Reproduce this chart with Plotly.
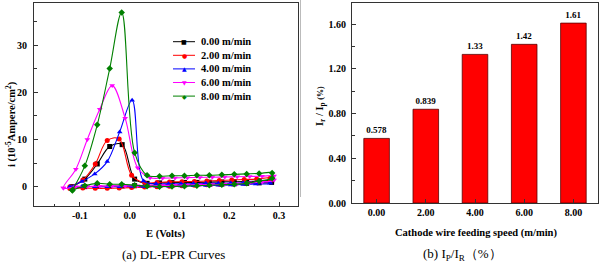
import plotly.graph_objects as go

W, H = 602, 263

# ---------------- data ----------------
speeds = ["0.00 m/min", "2.00 m/min", "4.00 m/min", "6.00 m/min", "8.00 m/min"]
colors = ["#000000", "#FF0000", "#0000FF", "#FF00FF", "#008000"]
symbols = ["square", "circle", "triangle-up", "triangle-down", "diamond"]
glyphs = ["\u25A0", "\u25CF", "\u25B2", "\u25BC", "\u25C6"]

# DL-EPR curves: potential (V) of the forward scan, current on forward scan,
# current on reverse scan (reverse listed from high E to low E)
e_000 = [-0.115, -0.09, -0.065, -0.04, -0.015, 0.01, 0.035, 0.06, 0.085, 0.11, 0.135, 0.16, 0.185, 0.21, 0.235, 0.26, 0.285]
i_fwd_000 = [0.0, 1.6, 4.8, 8.5, 8.9, 1.6, 0.7, 0.8, 0.85, 0.9, 0.9, 0.95, 1.0, 1.05, 1.1, 1.15, 1.2]
i_rev_000 = [0.9, 0.8, 0.7, 0.6, 0.55, 0.5, 0.45, 0.4, 0.35, 0.3, 0.25, 0.2, 0.15, 0.1, 0.05, 0.0, -0.2]

e_200 = [-0.12, -0.094, -0.069, -0.045, -0.021, 0.004, 0.03, 0.055, 0.08, 0.105, 0.13, 0.155, 0.18, 0.205, 0.23, 0.255, 0.282]
i_fwd_200 = [0.0, 1.4, 4.8, 9.8, 10.1, 2.4, 0.8, 0.9, 1.0, 1.05, 1.1, 1.2, 1.3, 1.4, 1.5, 1.6, 1.8]
i_rev_200 = [1.1, 0.9, 0.7, 0.6, 0.5, 0.4, 0.3, 0.2, 0.1, 0.0, -0.1, -0.2, -0.3, -0.35, -0.35, -0.3, -0.4]

e_400 = [-0.12, -0.096, -0.07, -0.045, -0.02, 0.005, 0.028, 0.053, 0.078, 0.103, 0.128, 0.153, 0.178, 0.203, 0.228, 0.253, 0.282]
i_fwd_400 = [0.0, 1.1, 2.7, 5.3, 11.6, 18.3, 1.2, 0.6, 0.6, 0.6, 0.65, 0.7, 0.7, 0.75, 0.8, 0.85, 0.9]
i_rev_400 = [0.7, 0.55, 0.45, 0.35, 0.3, 0.25, 0.2, 0.15, 0.1, 0.1, 0.05, 0.05, 0.0, 0.0, 0.0, 0.05, -0.1]

e_600 = [-0.133, -0.108, -0.085, -0.06, -0.035, -0.009, 0.016, 0.041, 0.066, 0.091, 0.116, 0.141, 0.166, 0.191, 0.216, 0.241, 0.266, 0.29]
i_fwd_600 = [-0.3, 3.7, 10.0, 16.4, 21.4, 14.5, 4.0, 1.9, 1.8, 1.85, 1.9, 1.95, 2.0, 2.05, 2.1, 2.15, 2.2, 2.25]
i_rev_600 = [1.4, 1.0, 0.8, 0.6, 0.5, 0.45, 0.4, 0.35, 0.3, 0.25, 0.2, 0.2, 0.15, 0.1, 0.1, 0.05, 0.0, -0.3]

e_800 = [-0.115, -0.09, -0.065, -0.04, -0.016, 0.01, 0.035, 0.06, 0.085, 0.11, 0.135, 0.16, 0.185, 0.21, 0.235, 0.26, 0.286]
i_fwd_800 = [-0.7, 4.4, 13.1, 25.0, 36.9, 7.2, 2.4, 2.2, 2.3, 2.3, 2.4, 2.4, 2.5, 2.6, 2.7, 2.8, 2.9]
i_rev_800 = [1.8, 1.2, 0.7, 0.5, 0.4, 0.3, 0.2, 0.1, 0.05, 0.0, 0.1, 0.3, 0.5, 0.5, 0.7, 0.2, -0.8]

curves = [
    (e_000, i_fwd_000, i_rev_000),
    (e_200, i_fwd_200, i_rev_200),
    (e_400, i_fwd_400, i_rev_400),
    (e_600, i_fwd_600, i_rev_600),
    (e_800, i_fwd_800, i_rev_800),
]

e_ticks = [-0.1, 0.0, 0.1, 0.2, 0.3]
e_ticktext = ["-0.1", "0.0", "0.1", "0.2", "0.3"]
e_minor = [-0.15, -0.05, 0.05, 0.15, 0.25]
i_ticks = [0, 10, 20, 30]
i_minor = [5, 15, 25, 35]

# Bar chart
feed_speed = ["0.00", "2.00", "4.00", "6.00", "8.00"]
ratio = [0.578, 0.839, 1.33, 1.42, 1.61]
ratio_ticks = [0.0, 0.4, 0.8, 1.2, 1.6]
ratio_minor = [0.2, 0.6, 1.0, 1.4]

# ---------------- figure ----------------
SERIF = "Liberation Serif"
fig = go.Figure()

for (e, fwd, rev), name, c, s in zip(curves, speeds, colors, symbols):
    fig.add_trace(go.Scatter(
        x=list(e) + list(reversed(e)),
        y=list(fwd) + list(rev),
        mode="lines+markers",
        line=dict(color=c, width=1.1, shape="spline", smoothing=1),
        marker=dict(symbol=s, size=5, color=c),
        name=name, showlegend=False,
        xaxis="x", yaxis="y",
    ))

fig.add_trace(go.Bar(
    x=feed_speed, y=ratio,
    text=[str(v) for v in ratio], textposition="outside",
    textfont=dict(family=SERIF, size=9, color="#000", weight="bold"),
    cliponaxis=False,
    width=0.52,
    marker=dict(color="#FF0000", line=dict(color="#5a0000", width=0.8)),
    showlegend=False, xaxis="x2", yaxis="y2",
))

def px(x):
    return x / W

def py(y):
    return 1 - y / H

axis_common = dict(
    showline=True, linecolor="#333333", linewidth=1, mirror=True,
    ticks="inside", ticklen=4, tickcolor="#333333", tickwidth=1,
    showgrid=False, zeroline=False, automargin=False,
    tickfont=dict(family=SERIF, size=10, color="#000", weight="bold"),
)

fig.update_layout(
    width=W, height=H,
    margin=dict(l=0, r=0, t=0, b=0, pad=0),
    paper_bgcolor="white", plot_bgcolor="white",
    xaxis=dict(domain=[px(34), px(298)], range=[-0.192, 0.338], anchor="y",
               tickvals=e_ticks, ticktext=e_ticktext,
               minor=dict(tickvals=e_minor, ticks="inside", ticklen=2.5, tickcolor="#333333"),
               **axis_common),
    yaxis=dict(domain=[py(206), py(3)], range=[-4.1, 38.9], anchor="x",
               tickvals=i_ticks, ticklabelstandoff=4,
               minor=dict(tickvals=i_minor, ticks="inside", ticklen=2.5, tickcolor="#333333"),
               **axis_common),
    xaxis2=dict(domain=[px(352), px(598)], range=[-0.5, 4.5], anchor="y2",
                type="category", **axis_common),
    yaxis2=dict(domain=[py(203), py(3)], range=[0, 1.79], anchor="x2",
                tickvals=ratio_ticks, tickformat=".2f", ticklabelstandoff=3,
                minor=dict(tickvals=ratio_minor, ticks="inside", ticklen=2.5, tickcolor="#333333"),
                **axis_common),
)

title_font = dict(family=SERIF, size=10.5, color="#000", weight="bold")
cap_font = dict(family=SERIF, size=13, color="#000")

ann = []
ann.append(dict(text="E (Volts)", x=px(166), y=py(234), font=title_font))
ann.append(dict(text="i (10<sup>-5</sup>Ampere/cm<sup>2</sup>)", x=px(11), y=py(124),
                textangle=-90, font=title_font))
ann.append(dict(text="Cathode wire feeding speed (m/min)", x=px(476), y=py(233), font=title_font))
ann.append(dict(text="I<sub>r</sub> / I<sub>p</sub> <span style='font-size:8px'>(%)</span>",
                x=px(320), y=py(106), textangle=-90, font=title_font))
ann.append(dict(text="(a) DL-EPR Curves", x=px(173), y=py(254), font=cap_font))
ann.append(dict(text="(b) I<sub>P</sub>/I<sub>R</sub>\uff08%\uff09", x=px(462), y=py(254), font=cap_font))

shapes = []
# separator line of the right-hand panel
shapes.append(dict(type="line", xref="paper", yref="paper", x0=px(300.5), x1=px(300.5),
                   y0=py(0), y1=py(197), line=dict(color="#bbbbbb", width=1)))

# legend drawn by hand
leg_y0, leg_dy = 41.7, 13.6
for k, (name, c, g) in enumerate(zip(speeds, colors, glyphs)):
    yy = leg_y0 + k * leg_dy
    shapes.append(dict(type="line", xref="paper", yref="paper", x0=px(173), x1=px(195),
                       y0=py(yy), y1=py(yy), line=dict(color=c, width=1)))
    ann.append(dict(text=g, x=px(184), y=py(yy), font=dict(family="DejaVu Sans", size=6, color=c)))
    ann.append(dict(text=name, x=px(198.5), y=py(yy), xanchor="left", font=title_font))

for a in ann:
    a.setdefault("xref", "paper")
    a.setdefault("yref", "paper")
    a.setdefault("showarrow", False)
    a.setdefault("xanchor", "center")
    a.setdefault("yanchor", "middle")

fig.update_layout(annotations=ann, shapes=shapes)
fig.write_html(
    "out.html",
    config={"displayModeBar": False},
    post_script="document.body.style.margin='0';document.body.style.padding='0';",
)
